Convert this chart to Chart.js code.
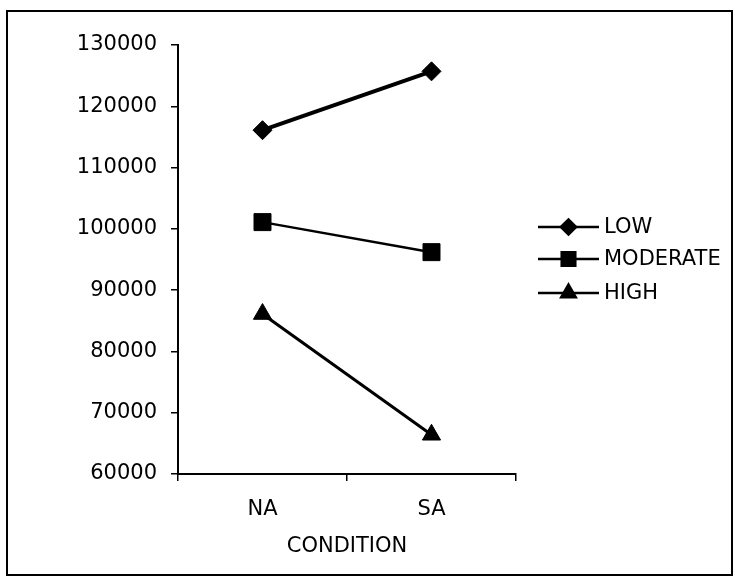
<!DOCTYPE html>
<html>
<head>
<meta charset="utf-8">
<script src="https://cdn.jsdelivr.net/npm/chart.js@4.4.1/dist/chart.umd.min.js"></script>
<style>
  html, body { margin: 0; padding: 0; background: #fff; }
  #wrap { width: 735px; height: 580px; }
</style>
</head>
<body>
<div id="wrap"><canvas id="chart" width="735" height="580"></canvas></div>
<script>
// values
const conditions = ['NA', 'SA'];
const seriesNames = ['LOW', 'MODERATE', 'HIGH'];
const lowValues = [116100, 125700];
const moderateValues = [101100, 96200];
const highValues = [86100, 66400];

const FONT = 'DejaVu Sans';

// outer frame round the whole picture
const framePlugin = {
    id: 'frame',
    afterDraw(chart) {
        const ctx = chart.ctx;
        ctx.save();
        ctx.strokeStyle = '#000';
        ctx.lineWidth = 2;
        ctx.strokeRect(7, 11, 725, 564);
        ctx.restore();
    }
};

// Excel-like legend: short line with the marker in the middle
const lineLegend = {
    id: 'lineLegend',
    afterDraw(chart) {
        const ctx = chart.ctx;
        const x0 = 538, x1 = 599, tx = 604;
        const rows = [227, 259, 293];
        ctx.save();
        chart.data.datasets.forEach((ds, i) => {
            const y = rows[i];
            ctx.strokeStyle = '#000';
            ctx.lineWidth = 2.5;
            ctx.beginPath();
            ctx.moveTo(x0, y);
            ctx.lineTo(x1, y);
            ctx.stroke();
            ctx.fillStyle = '#000';
            Chart.helpers.drawPoint(ctx, {
                pointStyle: ds.pointStyle,
                radius: ds.pointRadius * 0.8,
                borderWidth: 1,
                rotation: 0
            }, (x0 + x1) / 2, y);
            ctx.fill();
            ctx.font = '21px "' + FONT + '"';
            ctx.textBaseline = 'middle';
            ctx.textAlign = 'left';
            ctx.fillText(ds.label, tx, y + 1);
        });
        ctx.restore();
    }
};

const ctx = document.getElementById('chart').getContext('2d');
new Chart(ctx, {
    type: 'line',
    data: {
        labels: conditions,
        datasets: [
            {
                label: seriesNames[0],
                data: lowValues,
                borderColor: '#000',
                backgroundColor: '#000',
                borderWidth: 4,
                pointStyle: 'rectRot',
                pointRadius: 9.5,
                pointBorderWidth: 1
            },
            {
                label: seriesNames[1],
                data: moderateValues,
                borderColor: '#000',
                backgroundColor: '#000',
                borderWidth: 2.5,
                pointStyle: 'rect',
                pointRadius: 12,
                pointBorderWidth: 1
            },
            {
                label: seriesNames[2],
                data: highValues,
                borderColor: '#000',
                backgroundColor: '#000',
                borderWidth: 3,
                pointStyle: 'triangle',
                pointRadius: 10.5,
                pointBorderWidth: 1
            }
        ]
    },
    options: {
        responsive: false,
        animation: false,
        layout: { padding: { left: 0, right: 219, top: 45, bottom: 0 } },
        plugins: {
            legend: { display: false },
            tooltip: { enabled: false }
        },
        scales: {
            x: {
                offset: true,
                grid: { offset: true, drawOnChartArea: false, color: '#000', lineWidth: 1.5, tickLength: 7 },
                border: { color: '#000', width: 2 },
                ticks: { color: '#000', font: { family: FONT, size: 21 }, padding: 16 },
                title: {
                    display: true,
                    text: 'CONDITION',
                    color: '#000',
                    font: { family: FONT, size: 21 },
                    padding: { top: 0, bottom: 21 }
                },
                afterFit(scale) { scale.height = 106; }
            },
            y: {
                min: 60000,
                max: 130000,
                grid: { drawOnChartArea: false, color: '#000', lineWidth: 1.5, tickLength: 7 },
                border: { color: '#000', width: 2 },
                ticks: {
                    stepSize: 10000,
                    color: '#000',
                    font: { family: FONT, size: 21 },
                    padding: 14,
                    callback: v => String(v)
                },
                afterFit(scale) { scale.width = 178; }
            }
        }
    },
    plugins: [framePlugin, lineLegend]
});
</script>
</body>
</html>
